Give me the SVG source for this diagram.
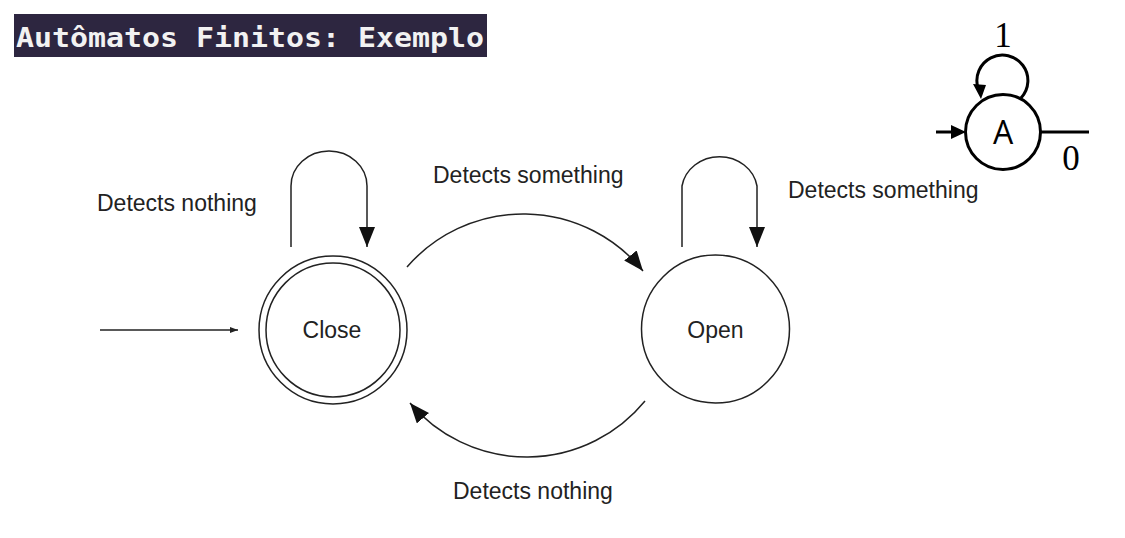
<svg xmlns="http://www.w3.org/2000/svg" width="1125" height="538" viewBox="0 0 1125 538">
<style>
.lbl{font-family:"Liberation Sans",Arial,sans-serif;font-size:23px;fill:#222}
.st{fill:#fff;stroke:#222;stroke-width:1.5}
.ln{fill:none;stroke:#222;stroke-width:1.5}
.bk{fill:none;stroke:#000;stroke-width:3}
</style>
<defs>
<marker id="ah" markerWidth="20" markerHeight="16" refX="20" refY="8" orient="auto" markerUnits="userSpaceOnUse">
<path d="M0,0 L20,8 L0,16 Z" fill="#111"/>
</marker>
<marker id="sa" markerWidth="8" markerHeight="6" refX="8" refY="3" orient="auto" markerUnits="userSpaceOnUse">
<path d="M0,0 L8,3 L0,6 Z" fill="#222"/>
</marker>
</defs>
<rect width="1125" height="538" fill="#fff"/>
<g id="title">
<rect x="14" y="14" width="473" height="43" fill="#2d2640"/>
<text x="16" y="47" font-family="'DejaVu Sans Mono','Liberation Mono',monospace" font-weight="bold" font-size="27" fill="#f2f2f2" textLength="468" lengthAdjust="spacingAndGlyphs">Autômatos Finitos: Exemplo</text>
</g>
<g id="mini">
<path class="bk" d="M1021,98 A25.5,25.5 0 1 0 978,88"/>
<polygon points="973,84 986,85 981,99" fill="#000"/>
<line class="bk" x1="936" y1="132" x2="953" y2="132"/>
<polygon points="951,125 966,132 951,139" fill="#000"/>
<circle cx="1003" cy="132" r="37.5" fill="#fff" stroke="#000" stroke-width="3"/>
<line class="bk" x1="1040" y1="132" x2="1089" y2="132"/>
<text x="1003" y="144" text-anchor="middle" font-family="'Open Sans','Liberation Sans',sans-serif" font-size="32" fill="#000">A</text>
<text x="1003" y="47" text-anchor="middle" font-family="'Liberation Serif','DejaVu Serif',serif" font-size="35" fill="#000">1</text>
<text x="1071" y="170" text-anchor="middle" font-family="'Liberation Serif','DejaVu Serif',serif" font-size="35" fill="#000">0</text>
</g>
<g id="connectors">
<line class="ln" x1="100" y1="330" x2="238" y2="330" marker-end="url(#sa)"/>
<path class="ln" d="M291,247 V186 A38,35 0 0 1 367,186 V247" marker-end="url(#ah)"/>
<path class="ln" d="M682,247 V186 A38,35 0 0 1 757,186 V247" marker-end="url(#ah)"/>
<path class="ln" d="M407,267 A154,154 0 0 1 643,271" marker-end="url(#ah)"/>
<path class="ln" d="M645,401 A153,153 0 0 1 410,403" marker-end="url(#ah)"/>
</g>
<g id="close">
<circle class="st" cx="333" cy="330" r="74"/>
<circle class="st" cx="333" cy="330" r="67"/>
<text class="lbl" x="332" y="338" text-anchor="middle">Close</text>
</g>
<g id="open">
<circle class="st" cx="715.5" cy="329" r="74"/>
<text class="lbl" x="715.5" y="338" text-anchor="middle">Open</text>
</g>
<g id="labels">
<text class="lbl" x="97" y="211">Detects nothing</text>
<text class="lbl" x="433" y="183">Detects something</text>
<text class="lbl" x="788" y="198">Detects something</text>
<text class="lbl" x="453" y="499">Detects nothing</text>
</g>
</svg>
